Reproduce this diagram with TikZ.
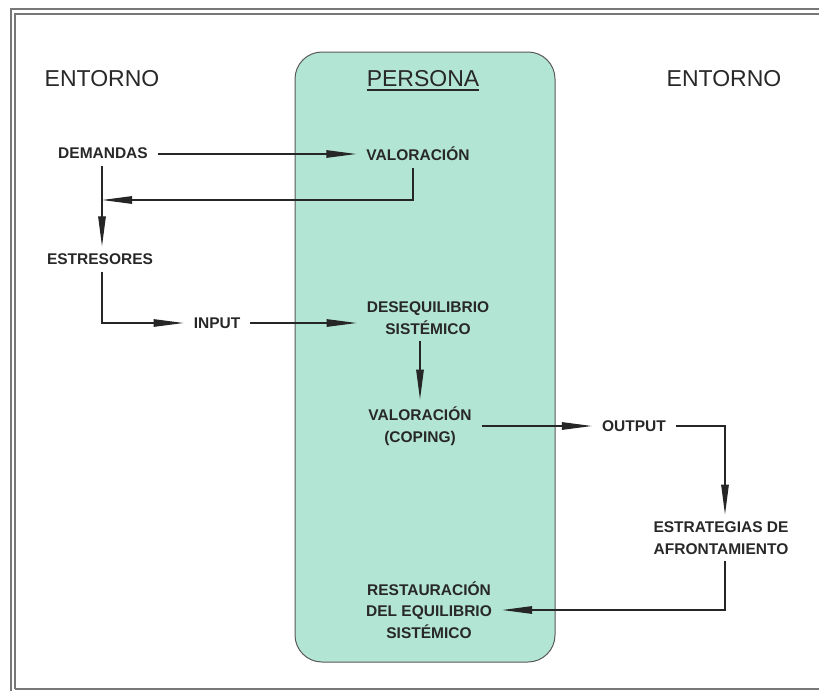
\documentclass[tikz,border=0pt]{standalone}
\usepackage{fontspec}
\setmainfont{Liberation Sans}
\usetikzlibrary{arrows.meta}
\definecolor{personafill}{RGB}{179,229,213}
\definecolor{inkdark}{RGB}{40,40,40}
\definecolor{framegray}{RGB}{120,120,120}
\tikzset{
  heading/.style={font=\fontsize{23}{26}\selectfont, text=inkdark, inner sep=0pt, anchor=base},
  lbl/.style={font=\bfseries\fontsize{15.5}{21.5}\selectfont, text=inkdark, align=center,
              inner xsep=10pt, inner ysep=7pt},
  flow/.style={draw=black!85, line width=1.2pt, -{Triangle[length=30pt,width=7.5pt]}},
}
\begin{document}
\begin{tikzpicture}[x=1pt,y=-1pt]
\useasboundingbox (0,0) rectangle (819,691);

% page frame (double rule, open to the right)
\draw[framegray, line width=1.4pt] (11,691) -- (11,9) -- (819,9);
\draw[framegray, line width=1.4pt] (15,689) -- (15,14) -- (819,14);
\draw[framegray, line width=1.4pt] (15,689) -- (819,689);

% the person block
\draw[draw=black!65, line width=1pt, fill=personafill, rounded corners=27pt]
  (295,52) rectangle (555,662);

% headings
\node[heading] (entL) at (102,86) {ENTORNO};
\node[heading] (per)  at (423,86) {PERSONA};
\node[heading] (entR) at (724,86) {ENTORNO};
\draw[inkdark, line width=1.2pt] ([yshift=-4pt]per.base west) -- ([yshift=-4pt]per.base east);

% labels
\node[lbl] (dem)   at (103,153) {DEMANDAS};
\node[lbl] (val)   at (418,154) {VALORACIÓN};
\node[lbl] (estr)  at (100,259) {ESTRESORES};
\node[lbl] (inp)   at (217,323) {INPUT};
\node[lbl] (deseq) at (428,318) {DESEQUILIBRIO\\SISTÉMICO};
\node[lbl] (cop)   at (420,426) {VALORACIÓN\\(COPING)};
\node[lbl] (out)   at (634,426) {OUTPUT};
\node[lbl] (estrat) at (721,538) {ESTRATEGIAS DE\\AFRONTAMIENTO};
\node[lbl] (rest)  at (429,610) {RESTAURACIÓN\\DEL EQUILIBRIO\\SISTÉMICO};

% junction on the left vertical line
\coordinate (j1) at (102,200);
\coordinate (d1) at (102,153);

% connectors
\draw[flow] (dem.east |- val.west) -- (val.west);
\draw[flow] ([xshift=-5pt]val.south) |- (j1);
\draw[flow] (d1 |- dem.south) -- (d1 |- estr.north);
\draw[flow] (d1 |- estr.south) |- (inp.west);
\draw[flow] (inp.east) -- (inp.east -| deseq.west);
\draw[flow] (cop.north |- deseq.south) -- (cop.north);
\draw[flow] (cop.east) -- (out.west);
\draw[flow] (out.east) -| ([xshift=4pt]estrat.north);
\draw[flow] ([xshift=4pt]estrat.south) |- (rest.east);
\end{tikzpicture}
\end{document}
